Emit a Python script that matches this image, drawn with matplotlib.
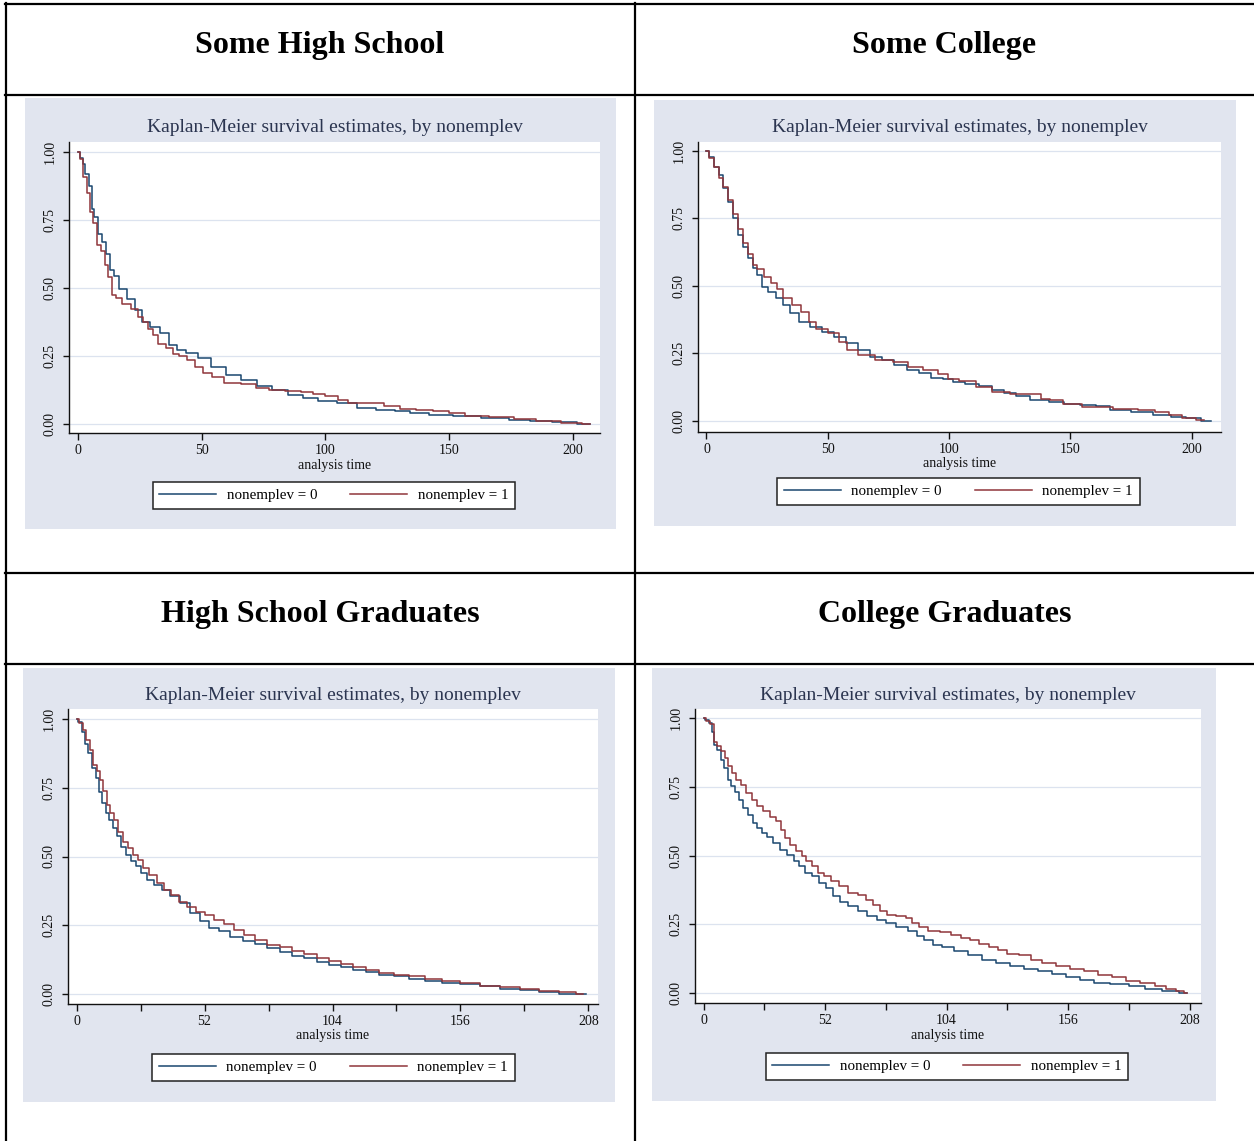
import matplotlib
matplotlib.use('Agg')

import matplotlib.pyplot as plt
from matplotlib.patches import Rectangle
from matplotlib.lines import Line2D

plt.rcParams['font.family'] = ['Liberation Serif', 'DejaVu Serif']

W, H = 1254, 1141

headers = ["Some High School", "Some College", "High School Graduates", "College Graduates"]
groups = ["nonemplev = 0", "nonemplev = 1"]
km_title = "Kaplan-Meier survival estimates, by nonemplev"
ytick_vals = [0.0, 0.25, 0.5, 0.75, 1.0]
xticks_50 = [0, 50, 100, 150, 200]
xticks_26 = [0, 26, 52, 78, 104, 130, 156, 182, 208]
xlabels_26 = ["0", "", "52", "", "104", "", "156", "", "208"]

# Some High School
shs_t0 = [0, 1.5, 2.5, 3.6, 5.1, 5.9, 7.4, 9, 10.5, 12, 13.6, 15.2, 18.3, 21.4, 24.5, 27.6, 30.7,
          35.3, 38.4, 41.5, 46.1, 50.8, 57, 63, 69, 75.5, 81.7, 88, 94, 100, 109.6, 115.8, 125,
          131, 137, 147, 156, 170, 178, 187, 196, 207]
shs_s0 = [1.0, 0.98, 0.955, 0.918, 0.876, 0.79, 0.76, 0.70, 0.668, 0.626, 0.565, 0.546, 0.497,
          0.461, 0.418, 0.376, 0.357, 0.333, 0.29, 0.272, 0.26, 0.241, 0.211, 0.18, 0.162, 0.14,
          0.126, 0.107, 0.095, 0.085, 0.077, 0.059, 0.052, 0.049, 0.04, 0.032, 0.028, 0.022,
          0.016, 0.01, 0.007, 0.001]
shs_t1 = [0, 1.5, 3, 4.5, 5.5, 7, 8.5, 10, 11.5, 13, 14.5, 16, 20, 23, 25.5, 27, 29.5, 31, 34, 37,
          40, 42, 46, 49, 52, 56, 62, 70, 74, 80, 87, 93, 97, 103, 107, 111, 120, 127, 133, 140,
          147, 153, 160, 172, 180, 190, 200, 207]
shs_s1 = [1.0, 0.975, 0.91, 0.85, 0.78, 0.74, 0.66, 0.638, 0.583, 0.54, 0.473, 0.462, 0.443,
          0.424, 0.394, 0.376, 0.351, 0.327, 0.296, 0.278, 0.258, 0.251, 0.235, 0.211, 0.187,
          0.174, 0.15, 0.146, 0.132, 0.126, 0.122, 0.117, 0.11, 0.104, 0.089, 0.077, 0.076,
          0.065, 0.055, 0.051, 0.049, 0.04, 0.03, 0.026, 0.02, 0.012, 0.005, 0.001]

# Some College
sc_t0 = [0, 2, 4, 6, 8, 10, 12, 14, 16, 18, 20, 22, 24, 27, 30, 33, 36, 40, 45, 50, 55, 60, 65,
         70, 75, 80, 85, 90, 95, 100, 103, 110, 115, 120, 125, 130, 137, 145, 150, 158, 163, 170,
         180, 188, 195, 200, 208]
sc_s0 = [1.0, 0.979, 0.94, 0.911, 0.862, 0.812, 0.75, 0.689, 0.645, 0.602, 0.565, 0.54, 0.497,
         0.478, 0.454, 0.429, 0.398, 0.367, 0.349, 0.33, 0.311, 0.287, 0.262, 0.237, 0.225,
         0.206, 0.188, 0.176, 0.159, 0.157, 0.145, 0.138, 0.13, 0.114, 0.105, 0.093, 0.079,
         0.07, 0.061, 0.058, 0.056, 0.042, 0.033, 0.021, 0.015, 0.009, 0.001]
sc_t1 = [0, 2, 4, 6, 8, 10, 12, 14, 16, 18, 20, 22, 25.5, 28, 30, 33, 37.6, 40.7, 43.8, 46.8, 53,
         56, 60, 65, 74, 80, 86, 92.5, 98.6, 100.5, 108, 114, 121.5, 129, 137, 139, 144, 150, 160,
         175, 181, 188.6, 193, 199, 205]
sc_s1 = [1.0, 0.975, 0.94, 0.90, 0.865, 0.82, 0.765, 0.71, 0.66, 0.62, 0.578, 0.562, 0.534,
         0.51, 0.49, 0.454, 0.429, 0.404, 0.367, 0.342, 0.324, 0.293, 0.262, 0.244, 0.225, 0.219,
         0.20, 0.188, 0.175, 0.157, 0.147, 0.126, 0.108, 0.101, 0.098, 0.083, 0.077, 0.064,
         0.052, 0.046, 0.042, 0.033, 0.021, 0.011, 0.003]

# High School Graduates
hsg_t0 = [0, 1.5, 3, 4, 5.5, 7, 8.5, 10, 11, 12.5, 14, 15.5, 17, 19, 21, 23, 25, 27.5, 30, 33, 36,
          40, 44, 48, 52, 56, 60, 65, 70, 75, 80, 85, 90, 95, 100, 105, 110, 115, 120, 126, 132,
          138, 145, 152, 160, 168, 176, 184, 192, 200, 207]
hsg_s0 = [1.0, 0.99, 0.954, 0.91, 0.875, 0.82, 0.785, 0.736, 0.694, 0.657, 0.633, 0.603, 0.573,
          0.536, 0.506, 0.482, 0.464, 0.44, 0.415, 0.397, 0.379, 0.355, 0.33, 0.294, 0.266,
          0.24, 0.228, 0.209, 0.194, 0.182, 0.167, 0.153, 0.14, 0.131, 0.115, 0.107, 0.097,
          0.088, 0.08, 0.07, 0.064, 0.056, 0.048, 0.042, 0.036, 0.028, 0.019, 0.015, 0.007,
          0.002, 0.0]
hsg_t1 = [0, 2, 3, 4.5, 6, 7.5, 9, 10, 11.5, 13, 14.5, 16, 18, 20, 22, 24, 26, 28, 31, 34, 37, 40,
          43, 47, 50, 54, 58, 62, 66, 70, 75, 80, 85, 90, 95, 100, 105, 110, 115, 120, 126, 132,
          138, 145, 152, 160, 168, 176, 184, 192, 200, 206]
hsg_s1 = [1.0, 0.985, 0.96, 0.924, 0.887, 0.833, 0.809, 0.778, 0.738, 0.688, 0.657, 0.633, 0.59,
          0.554, 0.53, 0.506, 0.488, 0.458, 0.433, 0.403, 0.379, 0.361, 0.334, 0.318, 0.30,
          0.286, 0.27, 0.254, 0.234, 0.215, 0.197, 0.179, 0.17, 0.155, 0.145, 0.131, 0.121,
          0.109, 0.097, 0.088, 0.076, 0.07, 0.064, 0.056, 0.048, 0.04, 0.031, 0.027, 0.019,
          0.013, 0.006, 0.0]

# College Graduates
cg_t0 = [0, 1.5, 3, 4, 5, 6.5, 8, 9.5, 11, 12.5, 14, 16, 18, 20, 22, 24, 26, 28, 31, 34, 37, 40,
         42, 45, 48, 51, 54, 57, 60, 64, 68, 72, 76, 80, 85, 90, 93, 96, 100, 104, 110, 116, 122,
         128, 134, 140, 146, 152, 158, 164, 170, 178, 186, 192, 200, 207]
cg_s0 = [1.0, 0.994, 0.982, 0.951, 0.903, 0.885, 0.848, 0.818, 0.776, 0.752, 0.733, 0.703,
         0.673, 0.648, 0.618, 0.60, 0.582, 0.566, 0.545, 0.521, 0.503, 0.479, 0.461, 0.436,
         0.424, 0.40, 0.382, 0.352, 0.333, 0.315, 0.297, 0.279, 0.267, 0.255, 0.239, 0.224,
         0.206, 0.194, 0.176, 0.166, 0.152, 0.139, 0.121, 0.109, 0.097, 0.088, 0.081, 0.069,
         0.057, 0.048, 0.036, 0.033, 0.024, 0.016, 0.008, 0.0]
cg_t1 = [0, 2, 3.5, 5, 6.5, 8.5, 9.5, 11, 13, 15, 17, 19, 22, 24, 27, 30, 32, 34, 36, 38, 41, 43,
         45, 48, 50, 53, 56, 60, 64, 68, 71, 74, 77, 80, 85, 88, 90, 94, 98, 104, 108, 112, 116,
         120, 124, 128, 132, 138, 142, 148, 154, 160, 166, 172, 178, 184, 190, 196, 200, 204, 207]
cg_s1 = [1.0, 0.99, 0.98, 0.913, 0.897, 0.879, 0.855, 0.824, 0.80, 0.776, 0.758, 0.727, 0.703,
         0.679, 0.661, 0.642, 0.624, 0.594, 0.564, 0.539, 0.515, 0.50, 0.479, 0.461, 0.436,
         0.424, 0.406, 0.388, 0.364, 0.358, 0.339, 0.321, 0.297, 0.285, 0.282, 0.273, 0.255,
         0.239, 0.224, 0.221, 0.21, 0.202, 0.194, 0.178, 0.166, 0.158, 0.142, 0.139, 0.121,
         0.109, 0.097, 0.088, 0.079, 0.067, 0.057, 0.045, 0.036, 0.024, 0.016, 0.006, 0.0]

series = [(shs_t0, shs_s0, shs_t1, shs_s1),
          (sc_t0, sc_s0, sc_t1, sc_s1),
          (hsg_t0, hsg_s0, hsg_t1, hsg_s1),
          (cg_t0, cg_s0, cg_t1, cg_s1)]

# pixel layout of each Stata graph: background, plot region, x range, legend box
layout = [
    dict(bg=(25, 98, 616, 529), plot=(69, 142, 600, 433), xlim=(-3.6, 210.9),
         ylim=(-0.033, 1.037), title_y=128, leg=(152, 482, 516, 509), weeks=False),
    dict(bg=(654, 100, 1236, 526), plot=(698, 142, 1221, 432), xlim=(-3.5, 212.1),
         ylim=(-0.041, 1.033), title_y=128, leg=(779, 478, 1138, 505), weeks=False),
    dict(bg=(23, 668, 615, 1102), plot=(68, 709, 598, 1004), xlim=(-3.5, 211.9),
         ylim=(-0.036, 1.036), title_y=696, leg=(151, 1053, 516, 1082), weeks=True),
    dict(bg=(652, 668, 1216, 1101), plot=(695, 709, 1201, 1003), xlim=(-3.7, 212.9),
         ylim=(-0.036, 1.033), title_y=695, leg=(773, 1052, 1121, 1081), weeks=True),
]

navy = '#1A476F'
maroon = '#90353B'
bg_col = '#E1E5EF'
grid_col = '#DCE3EF'
title_col = '#2B3550'


def fx(x):
    return x / W


def fy(y):
    return 1 - y / H


fig = plt.figure(figsize=(W / 100, H / 100), dpi=100)
fig.patch.set_facecolor('white')

# table lines
table_kw = dict(color='black', linewidth=1.6, transform=fig.transFigure)
for y in [3.7, 95.3, 572.7, 664]:
    fig.add_artist(Line2D([fx(5), fx(1254)], [fy(y), fy(y)], **table_kw))
for x in [6, 634.7]:
    fig.add_artist(Line2D([fx(x), fx(x)], [fy(3), fy(1141)], **table_kw))

header_pos = [(320, 53), (944.5, 53), (320, 622), (944.5, 622)]
for text, (x, y) in zip(headers, header_pos):
    fig.text(fx(x), fy(y), text, ha='center', va='baseline', fontsize=23,
             fontweight='bold', color='black')

for lay, (t0, s0, t1, s1) in zip(layout, series):
    bx0, by0, bx1, by1 = lay['bg']
    fig.add_artist(Rectangle((fx(bx0), fy(by1)), (bx1 - bx0) / W, (by1 - by0) / H,
                             transform=fig.transFigure, facecolor=bg_col,
                             edgecolor='none', zorder=-5))
    px0, py0, px1, py1 = lay['plot']
    ax = fig.add_axes([fx(px0), fy(py1), (px1 - px0) / W, (py1 - py0) / H])
    ax.set_zorder(2)
    ax.set_facecolor('white')

    l0, = ax.step(t0, s0, where='mid', color=navy, linewidth=1.1, label=groups[0], zorder=3)
    l1, = ax.step(t1, s1, where='mid', color=maroon, linewidth=1.1, label=groups[1], zorder=3)

    ax.set_xlim(*lay['xlim'])
    ax.set_ylim(*lay['ylim'])
    ax.set_yticks(ytick_vals)
    ax.set_yticklabels([f"{v:.2f}" for v in ytick_vals])
    if lay['weeks']:
        ax.set_xticks(xticks_26)
        ax.set_xticklabels(xlabels_26)
    else:
        ax.set_xticks(xticks_50)
        ax.set_xticklabels([str(v) for v in xticks_50])
    ax.grid(axis='y', color=grid_col, linewidth=0.9, zorder=1)
    ax.set_axisbelow(True)

    for side in ['top', 'right']:
        ax.spines[side].set_visible(False)
    for side in ['left', 'bottom']:
        ax.spines[side].set_linewidth(1.0)
        ax.spines[side].set_color('#111111')

    ax.tick_params(axis='x', length=5, width=1.0, pad=3, labelsize=10,
                   colors='#111111', direction='out')
    ax.tick_params(axis='y', length=4, width=1.0, pad=5, labelsize=10,
                   colors='#111111', direction='out', labelrotation=90)
    for lbl in ax.get_yticklabels():
        lbl.set_va('center')
    ax.set_xlabel('analysis time', fontsize=10, labelpad=1, color='#111111')

    fig.text(fx((px0 + px1) / 2), fy(lay['title_y']), km_title, ha='center', va='center',
             fontsize=14, color=title_col)

    lx0, ly0, lx1, ly1 = lay['leg']
    leg = ax.legend(handles=[l0, l1], loc='center',
                    bbox_to_anchor=(fx((lx0 + lx1) / 2), fy((ly0 + ly1) / 2)),
                    bbox_transform=fig.transFigure, ncol=2, fontsize=10.8,
                    handlelength=3.8, handletextpad=0.7, columnspacing=2.2,
                    borderpad=0.45, fancybox=False, framealpha=1,
                    edgecolor='#222222')
    leg.get_frame().set_linewidth(1.1)
    for h in leg.legend_handles:
        h.set_linewidth(1.1)

fig.savefig('out.png', dpi=100, facecolor='white')
